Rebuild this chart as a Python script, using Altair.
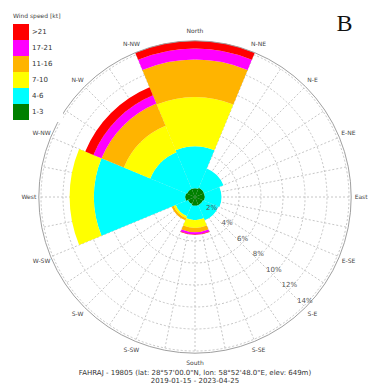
import math
import numpy as np
import pandas as pd
import altair as alt

# ---------------- data ----------------
directions = ["N", "NE", "E", "SE", "S", "SW", "W", "NW"]
dir_angles = [0, 45, 90, 135, 180, 225, 270, 315]
speed_bins = ["1-3", "4-6", "7-10", "11-16", "17-21", ">21"]
bin_colors = ["#008000", "#00FFFF", "#FFFF00", "#FFB400", "#FF00FF", "#FF0000"]

# frequency (%) per direction for each speed bin
freq_1_3 = [0.8, 0.9, 0.9, 0.8, 0.8, 0.7, 0.9, 0.8]
freq_4_6 = [3.8, 1.9, 1.5, 1.5, 1.3, 1.2, 8.3, 3.6]
freq_7_10 = [4.5, 0.0, 0.0, 0.0, 0.7, 0.2, 2.2, 2.6]
freq_11_16 = [3.4, 0.0, 0.0, 0.0, 0.4, 0.2, 0.0, 2.2]
freq_17_21 = [1.0, 0.0, 0.0, 0.0, 0.2, 0.0, 0.0, 0.8]
freq_21p = [0.7, 0.0, 0.0, 0.0, 0.05, 0.0, 0.0, 0.8]

ring_values = [2, 4, 6, 8, 10, 12, 14]
ring_labels = ["2%", "4%", "6%", "8%", "10%", "12%", "14%"]
outer_pct = 14.2

compass_labels = ["North", "N-NE", "N-E", "E-NE", "East", "E-SE", "S-E", "S-SE",
                  "South", "S-SW", "S-W", "W-SW", "West", "W-NW", "N-W", "N-NW"]
spoke_step = 11.25

title_line1 = "FAHRAJ - 19805 (lat: 28°57'00.0\"N, lon: 58°52'48.0\"E, elev: 649m)"
title_line2 = "2019-01-15 - 2023-04-25"
panel_letter = "B"

# ---------------- geometry ----------------
K = 11.0            # px per percent
W, H = 361, 377     # view size
CX, CY = 187, 189   # centre in view coords

xs = alt.Scale(domain=[-CX / K, (W - CX) / K], nice=False, zero=False)
ys = alt.Scale(domain=[-(H - CY) / K, CY / K], nice=False, zero=False)
rs = alt.Scale(type="linear", domain=[0, outer_pct], range=[0, outer_pct * K], zero=True, nice=False)
ts = alt.Scale(type="linear", domain=[0, 360], range=[0, 2 * math.pi], zero=False, nice=False)

cx_enc = alt.XDatum(0, type="quantitative", scale=xs, axis=None)
cy_enc = alt.YDatum(0, type="quantitative", scale=ys, axis=None)

# ---------------- tables ----------------
series = [freq_1_3, freq_4_6, freq_7_10, freq_11_16, freq_17_21, freq_21p]
rows = []
for i, d in enumerate(directions):
    cum = 0.0
    for b, vals in zip(speed_bins, series):
        v = vals[i]
        if v > 0:
            rows.append({"dir": d, "bin": b, "t0": dir_angles[i] - 22.5, "t1": dir_angles[i] + 22.5,
                         "r0": cum, "r1": cum + v})
        cum += v
wedges = pd.DataFrame(rows)

rings = pd.DataFrame({"r": ring_values})
outer = pd.DataFrame({"r": [outer_pct]})
spokes = pd.DataFrame({"a": np.arange(0, 360, spoke_step)})
compass = pd.DataFrame({"label": compass_labels, "a": np.arange(0, 360, 22.5)})
pct = pd.DataFrame({"label": ring_labels, "r": ring_values})

# ---------------- layers ----------------
ring_layer = alt.Chart(rings).mark_arc(
    filled=False, stroke="#b8b8b8", strokeWidth=0.8, strokeDash=[2, 2], theta=0, theta2=2 * math.pi
).encode(x=cx_enc, y=cy_enc, radius=alt.Radius("r:Q", scale=rs, stack=None))

spoke_layer = alt.Chart(spokes).transform_calculate(
    x0="0", y0="0",
    x1=f"{outer_pct} * sin(datum.a * PI / 180)",
    y1=f"{outer_pct} * cos(datum.a * PI / 180)",
).mark_rule(stroke="#b8b8b8", strokeWidth=0.8, strokeDash=[2, 2]).encode(
    x=alt.X("x0:Q", scale=xs, axis=None), y=alt.Y("y0:Q", scale=ys, axis=None),
    x2="x1:Q", y2="y1:Q")

wedge_layer = alt.Chart(wedges).mark_arc(strokeWidth=0).encode(
    x=cx_enc, y=cy_enc,
    theta=alt.Theta("t0:Q", scale=ts, stack=None), theta2="t1:Q",
    radius=alt.Radius("r1:Q", scale=rs, stack=None), radius2="r0:Q",
    color=alt.Color("bin:N", scale=alt.Scale(domain=speed_bins[::-1], range=bin_colors[::-1]),
                    legend=alt.Legend(title="Wind speed [kt]", orient="none", legendX=3, legendY=3,
                                      symbolType="square", symbolSize=256, symbolStrokeWidth=0,
                                      rowPadding=0, symbolOffset=0, labelOffset=3,
                                      titleFontSize=6, titleFontWeight="normal", titleColor="#444",
                                      titleFont="DejaVu Sans", titlePadding=5,
                                      labelFontSize=7, labelFont="DejaVu Sans", labelColor="#333",
                                      fillColor="white", padding=2)),
)

outer_layer = alt.Chart(outer).mark_arc(
    filled=False, stroke="#a0a0a0", strokeWidth=1, theta=0, theta2=2 * math.pi
).encode(x=cx_enc, y=cy_enc, radius=alt.Radius("r:Q", scale=rs, stack=None))

compass_layer = alt.Chart(compass).transform_calculate(
    x="15.1 * sin(datum.a * PI / 180)", y="15.1 * cos(datum.a * PI / 180)"
).mark_text(font="DejaVu Sans", fontSize=6, color="#444", align="center", baseline="middle").encode(
    x=alt.X("x:Q", scale=xs, axis=None), y=alt.Y("y:Q", scale=ys, axis=None), text="label:N")

pct_layer = alt.Chart(pct).transform_calculate(
    x="datum.r * sin(135 * PI / 180)", y="datum.r * cos(135 * PI / 180)"
).mark_text(font="DejaVu Sans", fontSize=7, color="#555", align="center", baseline="middle",
            dx=1, dy=-5).encode(
    x=alt.X("x:Q", scale=xs, axis=None), y=alt.Y("y:Q", scale=ys, axis=None), text="label:N")

texts = pd.DataFrame({"label": [title_line1, title_line2], "x": [0.0, 0.0], "y": [-16.0, -16.75]})
title_layer = alt.Chart(texts).mark_text(font="DejaVu Sans", fontSize=7, color="#333",
                                         align="center", baseline="middle").encode(
    x=alt.X("x:Q", scale=xs, axis=None), y=alt.Y("y:Q", scale=ys, axis=None), text="label:N")

letter = pd.DataFrame({"label": [panel_letter], "x": [13.6], "y": [15.7]})
letter_layer = alt.Chart(letter).mark_text(font="Liberation Serif", fontSize=24, color="#111",
                                           align="center", baseline="middle").encode(
    x=alt.X("x:Q", scale=xs, axis=None), y=alt.Y("y:Q", scale=ys, axis=None), text="label:N")

chart = alt.layer(
    ring_layer, spoke_layer, wedge_layer, outer_layer, compass_layer, pct_layer, title_layer, letter_layer
).properties(
    width=W, height=H, padding=0, autosize=alt.AutoSizeParams(type="none")
).configure_view(stroke=None)

chart.save("out.html", embed_options={"renderer": "svg", "actions": False})
